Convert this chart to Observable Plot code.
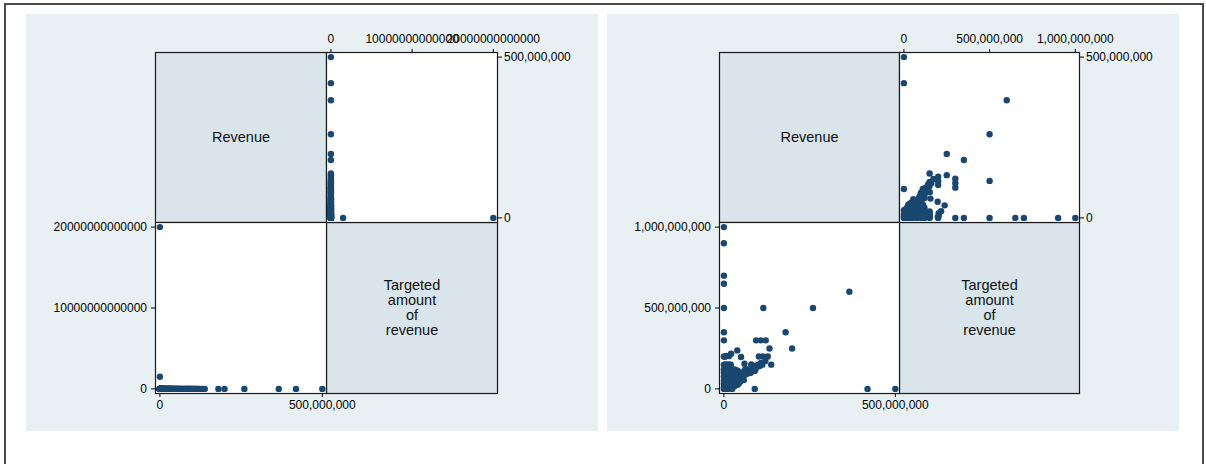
<!DOCTYPE html>
<html>
<head>
<meta charset="utf-8">
<script src="https://cdn.jsdelivr.net/npm/d3@7"></script>
<script src="https://cdn.jsdelivr.net/npm/@observablehq/plot@0.6"></script>
<style>
  body { margin: 0; background: #fff; font-family: "Liberation Sans", Arial, Helvetica, sans-serif; }
  #fig { position: relative; width: 1206px; height: 464px; overflow: hidden; background: #fff; }
  #frame { position: absolute; left: 4px; top: 3px; width: 1200px; height: 520px; border: 2px solid #4a4a4a; box-sizing: border-box; }
  .panel { position: absolute; top: 14px; width: 572px; height: 417px; background: #e8f0f3; }
  .cell { position: absolute; }
  .cell svg { display: block; overflow: visible; }
</style>
</head>
<body>
<div id="fig"><div id="frame"></div></div>
<script>
// Paired observations, in millions of dollars: revenue and the targeted amount of revenue.
const revenueM = [
  0, 0, 0, 0, 0, 0, 0, 0, 0, 0, 0, 0, 0, 0, 0, 0,
  500, 419, 90, 24, 12, 5,
  366, 260, 115, 180, 199, 94, 108, 122, 133, 39, 21, 7, 15, 50, 102, 114, 128, 121, 138, 60,
  96, 93, 86, 81, 104, 84, 94, 80, 65, 55, 50, 39, 34, 70, 31, 26, 36, 55, 46, 21, 12, 7, 15,
  5, 8, 3, 10, 15, 18, 6, 12, 22, 28, 35, 20, 40, 45, 60, 65, 50, 30, 25, 5, 10, 15, 4, 2, 8,
  18, 72, 62, 42, 3, 1, 2, 16, 9, 30, 40, 48, 58, 75, 35, 25, 12, 5, 20, 13, 3, 3,
  2, 6, 10, 14, 20, 25, 32, 38, 44, 8, 12, 18, 24, 30, 6, 14, 22, 28, 36, 40,
  4, 10, 16, 26, 34, 20, 28, 44, 52, 58, 66, 74, 82, 88, 100, 108, 112, 90, 78,
  0, 0
];
const targetM = [
  1000, 900, 700, 650, 500, 350, 300, 200, 150, 120, 100, 75, 50, 30, 10, 0,
  0, 0, 0, 0, 0, 0,
  600, 500, 500, 350, 250, 300, 300, 300, 250, 238, 217, 203, 203, 197, 200, 200, 200, 172, 150, 155,
  145, 126, 115, 140, 141, 130, 130, 151, 107, 82, 62, 52, 33, 120, 120, 99, 89, 68, 58, 37, 17, 151, 151,
  5, 12, 20, 25, 30, 40, 45, 55, 60, 70, 75, 80, 95, 105, 100, 90, 85, 50, 35, 70, 90, 110, 100, 60, 80,
  100, 110, 120, 72, 30, 5, 40, 18, 2, 15, 25, 45, 55, 98, 115, 120, 130, 140, 150, 146, 198, 150,
  3, 8, 15, 22, 28, 45, 60, 65, 80, 35, 48, 62, 78, 90, 95, 85, 95, 105, 100, 112,
  115, 105, 70, 55, 42, 12, 25, 35, 75, 85, 95, 105, 120, 135, 150, 160, 150, 110, 100,
  20000000, 1500000
];

// Axis ticks
const revenueTicks = [0, 500000000];
const targetTicksAll = [0, 10000000000000, 20000000000000];
const targetTicksTrimmed = [0, 500000000, 1000000000];

// Diagonal labels
const revenueLabel = "Revenue";
const targetLabel = "Targeted\namount\nof\nrevenue";

const MILLION = 1e6;
const rows = revenueM.map((r, i) => ({revenue: r * MILLION, target: targetM[i] * MILLION}));
const rowsTrimmed = rows.filter(d => d.target <= 1e9);

const FONT = "'Liberation Sans', Arial, Helvetica, sans-serif";
const MARKER = "#1a476f";
const DIAG_FILL = "#d9e5eb";
const commas = d3.format(",");
const plain = d3.format("d");

const fig = document.getElementById("fig");

function place(node, left, top) {
  const div = document.createElement("div");
  div.className = "cell";
  div.style.left = left + "px";
  div.style.top = top + "px";
  div.appendChild(node);
  fig.appendChild(div);
}

function diagonalCell(w, h, label) {
  return Plot.plot({
    width: w, height: h, margin: 0,
    style: {overflow: "visible", background: "transparent", fontFamily: FONT},
    x: {domain: [0, 1], axis: null},
    y: {domain: [0, 1], axis: null},
    marks: [
      Plot.frame({fill: DIAG_FILL, stroke: "#1a1a1a", strokeWidth: 1.2}),
      Plot.text([label], {frameAnchor: "middle", text: d => d, fontSize: 14.5, lineHeight: 1.03, fill: "#111"})
    ]
  });
}

function scatterCell(o) {
  return Plot.plot({
    width: o.w, height: o.h, margin: 0,
    style: {overflow: "visible", background: "transparent", fontFamily: FONT, fontSize: "12px"},
    x: {domain: o.xDomain, range: [4.4, o.w - 4.2]},
    y: {domain: o.yDomain, range: [o.h - 4.6, 4.6]},
    marks: [
      Plot.frame({fill: "white"}),
      Plot.dot(o.data, {x: o.x, y: o.y, r: 3.2, fill: MARKER, stroke: "none"}),
      Plot.axisX({anchor: o.xAnchor, ticks: o.xTicks, tickFormat: o.xFormat, tickSize: 4,
                  tickPadding: o.xAnchor === "top" ? 5.5 : 3, label: null, fontSize: 12}),
      Plot.axisY({anchor: o.yAnchor, ticks: o.yTicks, tickFormat: o.yFormat, tickSize: 4,
                  tickPadding: o.yAnchor === "right" ? 2.5 : 4.5, label: null, fontSize: 12}),
      Plot.frame({stroke: "#1a1a1a", strokeWidth: 1.2})
    ]
  });
}

const top0 = 52, midY = 222, bottom0 = 393;
const panels = [
  {left: 26, data: rows, targetDomain: [0, 2e13], targetTicks: targetTicksAll, targetFormat: plain, x0: 155, xm: 326, x1: 497},
  {left: 607, data: rowsTrimmed, targetDomain: [0, 1e9], targetTicks: targetTicksTrimmed, targetFormat: commas, x0: 718.5, xm: 898.5, x1: 1078.5}
];

for (const p of panels) {
  const bg = document.createElement("div");
  bg.className = "panel";
  bg.style.left = p.left + "px";
  fig.appendChild(bg);

  const wL = p.xm - p.x0, wR = p.x1 - p.xm;
  const hT = midY - top0, hB = bottom0 - midY;

  place(diagonalCell(wL, hT, revenueLabel), p.x0, top0);
  place(diagonalCell(wR, hB, targetLabel), p.xm, midY);

  // Revenue against targeted amount (upper right)
  place(scatterCell({
    w: wR, h: hT, data: p.data, x: "target", y: "revenue",
    xDomain: p.targetDomain, yDomain: [0, 5e8],
    xTicks: p.targetTicks, xFormat: p.targetFormat, xAnchor: "top",
    yTicks: revenueTicks, yFormat: commas, yAnchor: "right"
  }), p.xm, top0);

  // Targeted amount against revenue (lower left)
  place(scatterCell({
    w: wL, h: hB, data: p.data, x: "revenue", y: "target",
    xDomain: [0, 5e8], yDomain: p.targetDomain,
    xTicks: revenueTicks, xFormat: commas, xAnchor: "bottom",
    yTicks: p.targetTicks, yFormat: p.targetFormat, yAnchor: "left"
  }), p.x0, midY);
}
</script>
</body>
</html>
